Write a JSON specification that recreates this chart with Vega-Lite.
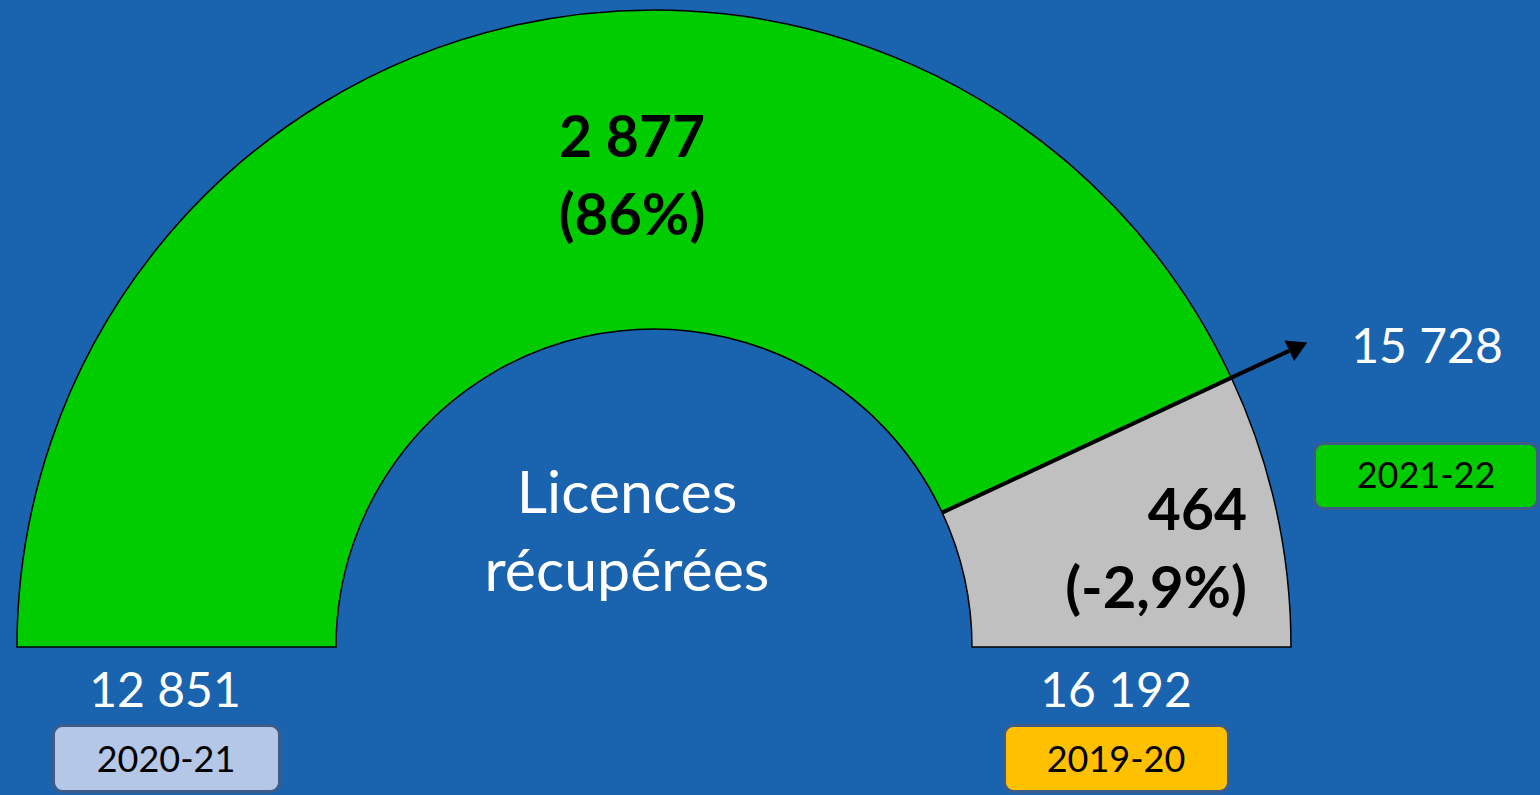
{
  "$schema": "https://vega.github.io/schema/vega-lite/v6.json",
  "width": 1540,
  "height": 795,
  "padding": 0,
  "autosize": {"type": "none"},
  "background": "#1a63ae",
  "config": {
    "view": {"stroke": null},
    "locale": {"number": {"decimal": ",", "thousands": " ", "grouping": [3], "currency": ["", " €"]}},
    "text": {"font": "Lato"}
  },
  "datasets": {
    "arcs": [
      {"segment": "Gagnées", "from": 12851, "to": 15728, "value": 2877, "share": "(86%)"},
      {"segment": "Perdues", "from": 15728, "to": 16192, "value": 464, "share": "(-2,9%)"}
    ],
    "seasons": [
      {"season": "2020-21", "licences": 12851},
      {"season": "2021-22", "licences": 15728},
      {"season": "2019-20", "licences": 16192}
    ]
  },
  "layer": [
    {
      "data": {"name": "arcs"},
      "mark": {"type": "arc", "outerRadius": 637, "innerRadius": 318, "stroke": "#000000", "strokeWidth": 1.5},
      "encoding": {
        "x": {"datum": 0, "type": "quantitative", "scale": {"domain": [-1.02669, 1.39089], "nice": false, "zero": false}, "axis": null},
        "y": {"datum": 0, "type": "quantitative", "scale": {"domain": [-0.23234, 1.0157], "nice": false, "zero": false}, "axis": null},
        "theta": {"field": "from", "type": "quantitative", "stack": null, "scale": {"domain": [12851, 16192], "range": [-1.5707963, 1.5707963]}},
        "theta2": {"field": "to"},
        "color": {"field": "segment", "type": "nominal", "scale": {"domain": ["Gagnées", "Perdues"], "range": ["#00cc00", "#c0c0c0"]}, "legend": null}
      }
    },
    {
      "data": {"name": "arcs"},
      "transform": [{"filter": "datum.segment == 'Gagnées'"}],
      "layer": [
        {
          "mark": {"type": "text", "font": "Lato", "fontWeight": "bold", "fontSize": 57, "align": "center", "baseline": "alphabetic", "color": "#000000"},
          "encoding": {
            "x": {"datum": -0.03454, "type": "quantitative", "scale": {"domain": [-1.02669, 1.39089], "nice": false, "zero": false}, "axis": null},
            "y": {"datum": 0.76923, "type": "quantitative", "scale": {"domain": [-0.23234, 1.0157], "nice": false, "zero": false}, "axis": null},
            "text": {"field": "value", "type": "quantitative", "format": ",d"}
          }
        },
        {
          "mark": {"type": "text", "font": "Lato", "fontWeight": "bold", "fontSize": 58, "align": "center", "baseline": "alphabetic", "color": "#000000"},
          "encoding": {
            "x": {"datum": -0.03454, "type": "quantitative", "scale": {"domain": [-1.02669, 1.39089], "nice": false, "zero": false}, "axis": null},
            "y": {"datum": 0.64678, "type": "quantitative", "scale": {"domain": [-0.23234, 1.0157], "nice": false, "zero": false}, "axis": null},
            "text": {"field": "share", "type": "nominal"}
          }
        }
      ]
    },
    {
      "data": {"name": "arcs"},
      "transform": [{"filter": "datum.segment == 'Perdues'"}],
      "layer": [
        {
          "mark": {"type": "text", "font": "Lato", "fontWeight": "bold", "fontSize": 57, "align": "right", "baseline": "alphabetic", "color": "#000000"},
          "encoding": {
            "x": {"datum": 0.93093, "type": "quantitative", "scale": {"domain": [-1.02669, 1.39089], "nice": false, "zero": false}, "axis": null},
            "y": {"datum": 0.18367, "type": "quantitative", "scale": {"domain": [-0.23234, 1.0157], "nice": false, "zero": false}, "axis": null},
            "text": {"field": "value", "type": "quantitative", "format": ",d"}
          }
        },
        {
          "mark": {"type": "text", "font": "Lato", "fontWeight": "bold", "fontSize": 58, "align": "right", "baseline": "alphabetic", "color": "#000000"},
          "encoding": {
            "x": {"datum": 0.93093, "type": "quantitative", "scale": {"domain": [-1.02669, 1.39089], "nice": false, "zero": false}, "axis": null},
            "y": {"datum": 0.06122, "type": "quantitative", "scale": {"domain": [-0.23234, 1.0157], "nice": false, "zero": false}, "axis": null},
            "text": {"field": "share", "type": "nominal"}
          }
        }
      ]
    },
    {
      "data": {"name": "seasons"},
      "transform": [{"filter": "datum.season == '2021-22'"}],
      "layer": [
        {
          "mark": {"type": "rule", "color": "#000000", "strokeWidth": 4},
          "encoding": {
            "x": {"datum": 0.45244, "type": "quantitative", "scale": {"domain": [-1.02669, 1.39089], "nice": false, "zero": false}, "axis": null},
            "y": {"datum": 0.21098, "type": "quantitative", "scale": {"domain": [-0.23234, 1.0157], "nice": false, "zero": false}, "axis": null},
            "x2": {"datum": 0.99694},
            "y2": {"datum": 0.46488}
          }
        },
        {
          "mark": {"type": "point", "shape": "triangle-right", "filled": true, "color": "#000000", "opacity": 1, "size": 520, "angle": -25},
          "encoding": {
            "x": {"datum": 1.01144, "type": "quantitative", "scale": {"domain": [-1.02669, 1.39089], "nice": false, "zero": false}, "axis": null},
            "y": {"datum": 0.47164, "type": "quantitative", "scale": {"domain": [-0.23234, 1.0157], "nice": false, "zero": false}, "axis": null}
          }
        }
      ]
    },
    {
      "data": {"values": [{"title": ["Licences", "récupérées"]}]},
      "mark": {"type": "text", "font": "Lato", "fontSize": 59, "align": "center", "baseline": "alphabetic", "lineHeight": 78, "color": "#ffffff"},
      "encoding": {
        "x": {"datum": -0.04239, "type": "quantitative", "scale": {"domain": [-1.02669, 1.39089], "nice": false, "zero": false}, "axis": null},
        "y": {"datum": 0.21036, "type": "quantitative", "scale": {"domain": [-0.23234, 1.0157], "nice": false, "zero": false}, "axis": null},
        "text": {"field": "title"}
      }
    },
    {
      "data": {"name": "seasons"},
      "transform": [{"filter": "datum.season == '2020-21'"}],
      "layer": [
        {
          "mark": {"type": "rect", "cornerRadius": 9, "stroke": "#3e5c8a", "strokeWidth": 3},
          "encoding": {
            "x": {"datum": -0.9427, "type": "quantitative", "scale": {"domain": [-1.02669, 1.39089], "nice": false, "zero": false}, "axis": null},
            "x2": {"datum": -0.58791},
            "y": {"datum": -0.12323, "type": "quantitative", "scale": {"domain": [-0.23234, 1.0157], "nice": false, "zero": false}, "axis": null},
            "y2": {"datum": -0.22684},
            "fill": {"field": "season", "type": "nominal", "scale": {"domain": ["2020-21", "2021-22", "2019-20"], "range": ["#b4c7e7", "#00cc00", "#ffc000"]}, "legend": null}
          }
        },
        {
          "mark": {"type": "text", "font": "Lato", "fontSize": 36, "align": "center", "baseline": "alphabetic", "color": "#000000"},
          "encoding": {
            "x": {"datum": -0.76609, "type": "quantitative", "scale": {"domain": [-1.02669, 1.39089], "nice": false, "zero": false}, "axis": null},
            "y": {"datum": -0.19623, "type": "quantitative", "scale": {"domain": [-0.23234, 1.0157], "nice": false, "zero": false}, "axis": null},
            "text": {"field": "season", "type": "nominal"}
          }
        },
        {
          "mark": {"type": "text", "font": "Lato", "fontSize": 48, "align": "center", "baseline": "alphabetic", "color": "#ffffff"},
          "encoding": {
            "x": {"datum": -0.76766, "type": "quantitative", "scale": {"domain": [-1.02669, 1.39089], "nice": false, "zero": false}, "axis": null},
            "y": {"datum": -0.09419, "type": "quantitative", "scale": {"domain": [-0.23234, 1.0157], "nice": false, "zero": false}, "axis": null},
            "text": {"field": "licences", "type": "quantitative", "format": ",d"}
          }
        }
      ]
    },
    {
      "data": {"name": "seasons"},
      "transform": [{"filter": "datum.season == '2019-20'"}],
      "layer": [
        {
          "mark": {"type": "rect", "cornerRadius": 9, "stroke": "#3e5c8a", "strokeWidth": 3},
          "encoding": {
            "x": {"datum": 0.55024, "type": "quantitative", "scale": {"domain": [-1.02669, 1.39089], "nice": false, "zero": false}, "axis": null},
            "x2": {"datum": 0.90188},
            "y": {"datum": -0.12323, "type": "quantitative", "scale": {"domain": [-0.23234, 1.0157], "nice": false, "zero": false}, "axis": null},
            "y2": {"datum": -0.22684},
            "fill": {"field": "season", "type": "nominal", "scale": {"domain": ["2020-21", "2021-22", "2019-20"], "range": ["#b4c7e7", "#00cc00", "#ffc000"]}, "legend": null}
          }
        },
        {
          "mark": {"type": "text", "font": "Lato", "fontSize": 36, "align": "center", "baseline": "alphabetic", "color": "#000000"},
          "encoding": {
            "x": {"datum": 0.72527, "type": "quantitative", "scale": {"domain": [-1.02669, 1.39089], "nice": false, "zero": false}, "axis": null},
            "y": {"datum": -0.19623, "type": "quantitative", "scale": {"domain": [-0.23234, 1.0157], "nice": false, "zero": false}, "axis": null},
            "text": {"field": "season", "type": "nominal"}
          }
        },
        {
          "mark": {"type": "text", "font": "Lato", "fontSize": 48, "align": "center", "baseline": "alphabetic", "color": "#ffffff"},
          "encoding": {
            "x": {"datum": 0.72527, "type": "quantitative", "scale": {"domain": [-1.02669, 1.39089], "nice": false, "zero": false}, "axis": null},
            "y": {"datum": -0.09419, "type": "quantitative", "scale": {"domain": [-0.23234, 1.0157], "nice": false, "zero": false}, "axis": null},
            "text": {"field": "licences", "type": "quantitative", "format": ",d"}
          }
        }
      ]
    },
    {
      "data": {"name": "seasons"},
      "transform": [{"filter": "datum.season == '2021-22'"}],
      "layer": [
        {
          "mark": {"type": "rect", "cornerRadius": 9, "stroke": "#3e5c8a", "strokeWidth": 3},
          "encoding": {
            "x": {"datum": 1.03689, "type": "quantitative", "scale": {"domain": [-1.02669, 1.39089], "nice": false, "zero": false}, "axis": null},
            "x2": {"datum": 1.38697},
            "y": {"datum": 0.31947, "type": "quantitative", "scale": {"domain": [-0.23234, 1.0157], "nice": false, "zero": false}, "axis": null},
            "y2": {"datum": 0.21743},
            "fill": {"field": "season", "type": "nominal", "scale": {"domain": ["2020-21", "2021-22", "2019-20"], "range": ["#b4c7e7", "#00cc00", "#ffc000"]}, "legend": null}
          }
        },
        {
          "mark": {"type": "text", "font": "Lato", "fontSize": 36, "align": "center", "baseline": "alphabetic", "color": "#000000"},
          "encoding": {
            "x": {"datum": 1.21193, "type": "quantitative", "scale": {"domain": [-1.02669, 1.39089], "nice": false, "zero": false}, "axis": null},
            "y": {"datum": 0.24961, "type": "quantitative", "scale": {"domain": [-0.23234, 1.0157], "nice": false, "zero": false}, "axis": null},
            "text": {"field": "season", "type": "nominal"}
          }
        },
        {
          "mark": {"type": "text", "font": "Lato", "fontSize": 48, "align": "center", "baseline": "alphabetic", "color": "#ffffff"},
          "encoding": {
            "x": {"datum": 1.2135, "type": "quantitative", "scale": {"domain": [-1.02669, 1.39089], "nice": false, "zero": false}, "axis": null},
            "y": {"datum": 0.44584, "type": "quantitative", "scale": {"domain": [-0.23234, 1.0157], "nice": false, "zero": false}, "axis": null},
            "text": {"field": "licences", "type": "quantitative", "format": ",d"}
          }
        }
      ]
    }
  ]
}
